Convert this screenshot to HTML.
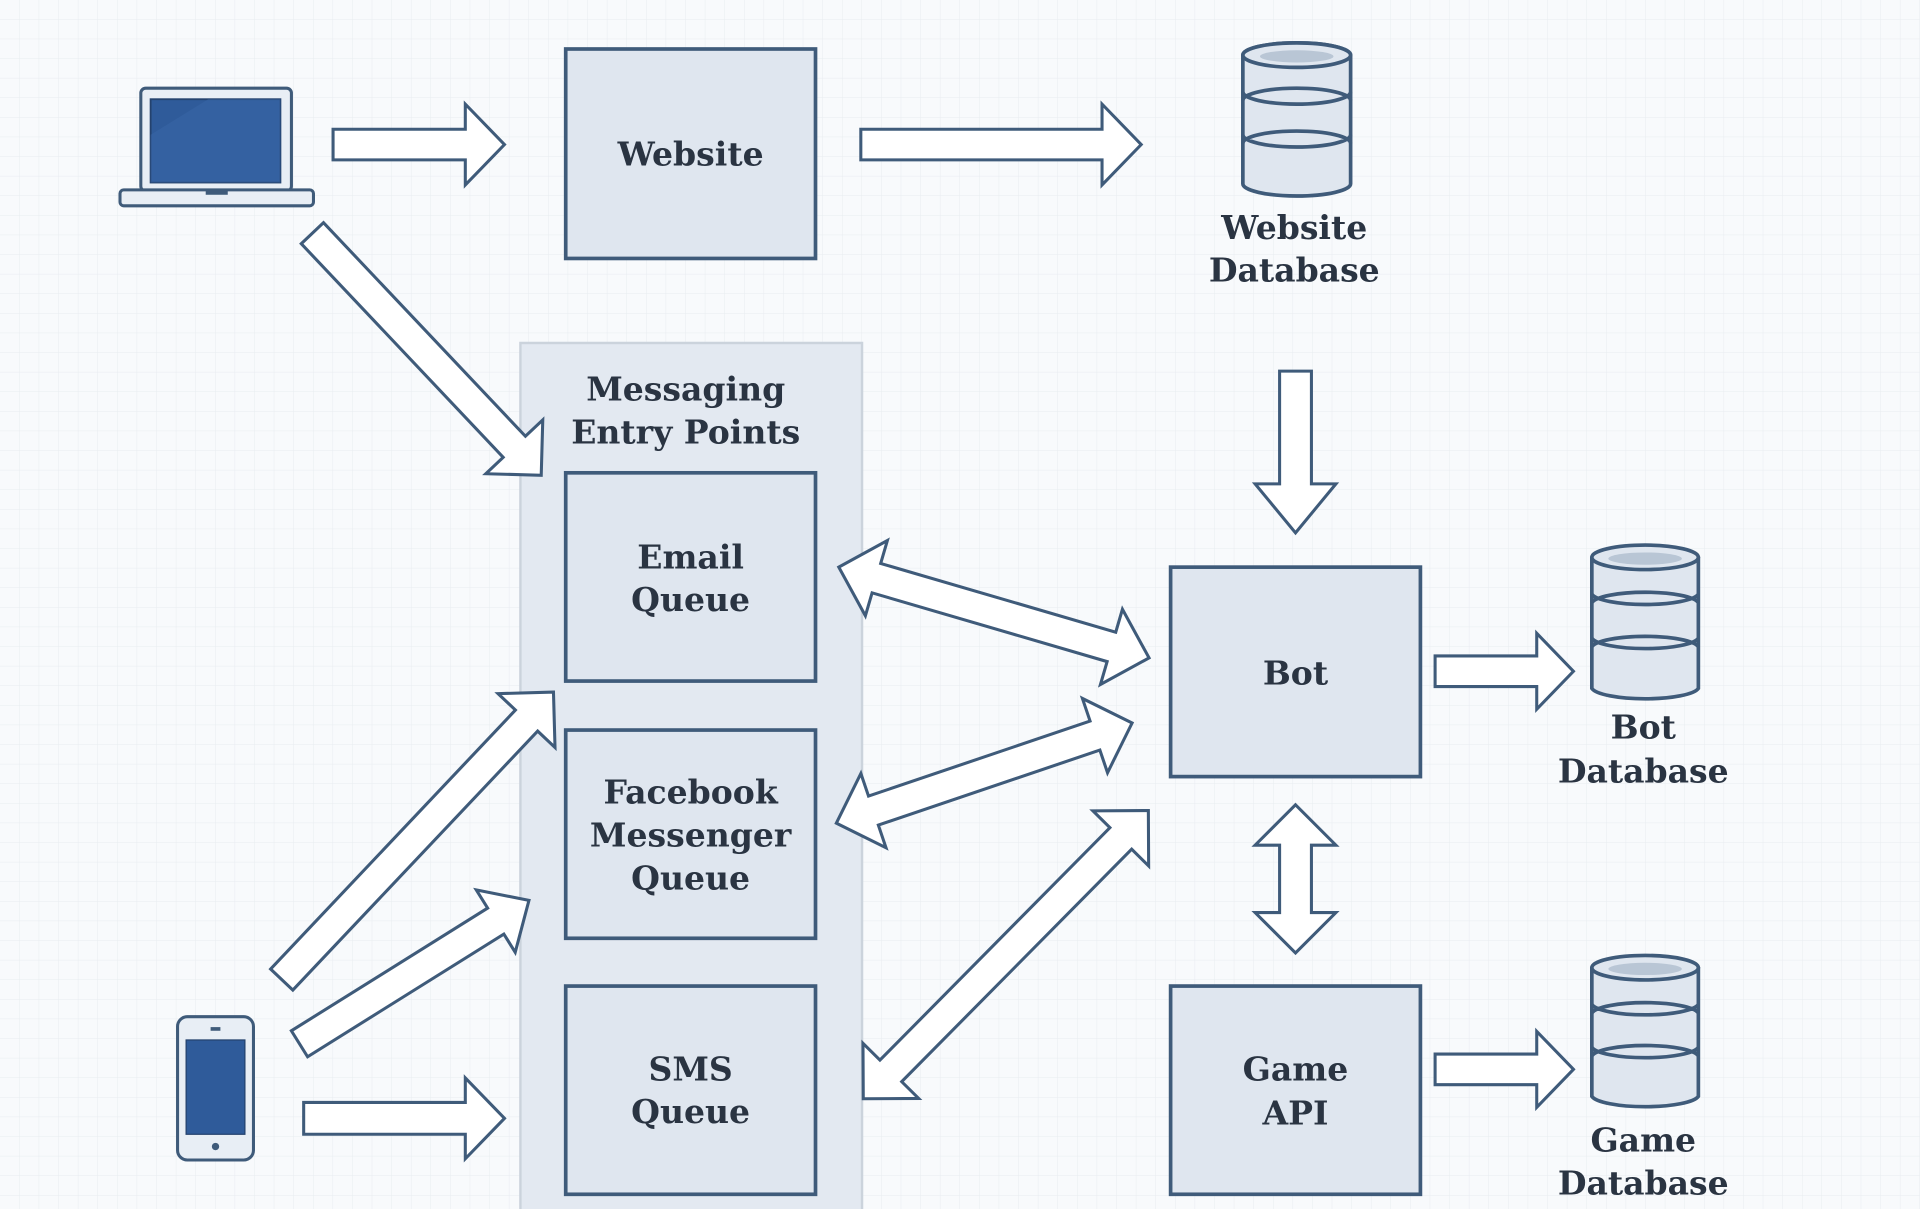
<!DOCTYPE html>
<html><head><meta charset="utf-8"><style>
html,body{margin:0;padding:0;background:#f8fafc;}
svg{display:block}
text{font-family:"DejaVu Serif","Liberation Serif",serif;font-size:27px;fill:#2a3442;text-anchor:middle;font-weight:bold;}
</style></head><body>
<svg width="1920" height="1209" viewBox="0 0 1568 987" preserveAspectRatio="none" xmlns="http://www.w3.org/2000/svg">
<defs>
<pattern id="g" width="16" height="16" patternUnits="userSpaceOnUse">
<path d="M16 0V16M0 16H16" fill="none" stroke="#e8ecf0" stroke-width="0.8"/>
</pattern>
</defs>
<rect width="1568" height="987" fill="#f8fafc"/>
<rect width="1568" height="987" fill="url(#g)"/>

<!-- messaging container -->
<rect x="425" y="280" width="279" height="720" fill="#e3e9f1" stroke="#cbd3dc" stroke-width="2"/>

<g fill="#ffffff" stroke="#3f5b7a" stroke-width="2.5" stroke-linejoin="miter">
<g transform="translate(412,118)"><polygon points="0,0 -32,-33 -32,-12.5 -140,-12.5 -140,12.5 -32,12.5 -32,33"/></g>
<g transform="translate(932,118)"><polygon points="0,0 -32,-33 -32,-12.5 -229,-12.5 -229,12.5 -32,12.5 -32,33"/></g>
<g transform="translate(442,388) rotate(46.6)"><polygon points="0,0 -32,-32 -32,-12.5 -272,-12.5 -272,12.5 -32,12.5 -32,32"/></g>
<g transform="translate(1058,435) rotate(90)"><polygon points="0,0 -40,-33 -40,-13 -132,-13 -132,13 -40,13 -40,33"/></g>
<g transform="translate(452,565) rotate(-46.6)"><polygon points="0,0 -32,-32 -32,-12.5 -323,-12.5 -323,12.5 -32,12.5 -32,32"/></g>
<g transform="translate(432,735) rotate(-32)"><polygon points="0,0 -32,-30 -32,-12.5 -221,-12.5 -221,12.5 -32,12.5 -32,30"/></g>
<g transform="translate(412,913)"><polygon points="0,0 -32,-33 -32,-13 -164,-13 -164,13 -32,13 -32,33"/></g>
<g transform="translate(1285,548)"><polygon points="0,0 -30,-31 -30,-12.5 -113,-12.5 -113,12.5 -30,12.5 -30,31"/></g>
<g transform="translate(1285,873)"><polygon points="0,0 -30,-31 -30,-12.5 -113,-12.5 -113,12.5 -30,12.5 -30,31"/></g>
<g transform="translate(685,463) rotate(16.3)"><polygon points="0,0 32,-32 32,-12.5 232,-12.5 232,-32 264,0 232,32 232,12.5 32,12.5 32,32"/></g>
<g transform="translate(683,672) rotate(-18.7)"><polygon points="0,0 32,-32 32,-12.5 223,-12.5 223,-32 255,0 223,32 223,12.5 32,12.5 32,32"/></g>
<g transform="translate(705,897) rotate(-45.3)"><polygon points="0,0 32,-32 32,-12.5 299,-12.5 299,-32 331,0 299,32 299,12.5 32,12.5 32,32"/></g>
<g transform="translate(1058,657) rotate(90)"><polygon points="0,0 33,-33 33,-13 88,-13 88,-33 121,0 88,33 88,13 33,13 33,33"/></g>
</g>

<!-- boxes -->
<g fill="#dfe6ef" stroke="#3f5b7a" stroke-width="3">
<rect x="462" y="40" width="204" height="171"/>
<rect x="462" y="386" width="204" height="170"/>
<rect x="462" y="596" width="204" height="170"/>
<rect x="462" y="805" width="204" height="170"/>
<rect x="956" y="463" width="204" height="171"/>
<rect x="956" y="805" width="204" height="170"/>
</g>

<!-- databases -->
<g fill="#dfe6ef" stroke="#3f5b7a" stroke-width="3">
<g transform="translate(1015,35)">
<path d="M0 10 A44 10 0 0 1 88 10 V115 A44 10 0 0 1 0 115 Z"/>
<ellipse cx="44" cy="10" rx="44" ry="10"/>
<ellipse cx="44" cy="11" rx="30" ry="5" fill="#b9c6d5" stroke="none"/>
<path d="M0 40 A44 10 0 0 0 88 40 M0 47 A44 10 0 0 1 88 47 M0 75 A44 10 0 0 0 88 75 M0 82 A44 10 0 0 1 88 82" fill="none"/>
</g>
<g transform="translate(1300,445)">
<path d="M0 10 A44 10 0 0 1 87 10 V117 A44 10 0 0 1 0 117 Z"/>
<ellipse cx="43.5" cy="10" rx="43.5" ry="10"/>
<ellipse cx="43.5" cy="11" rx="30" ry="5" fill="#b9c6d5" stroke="none"/>
<path d="M0 40 A44 10 0 0 0 87 40 M0 47 A44 10 0 0 1 87 47 M0 76 A44 10 0 0 0 87 76 M0 83 A44 10 0 0 1 87 83" fill="none"/>
</g>
<g transform="translate(1300,780)">
<path d="M0 10 A44 10 0 0 1 87 10 V115 A44 10 0 0 1 0 115 Z"/>
<ellipse cx="43.5" cy="10" rx="43.5" ry="10"/>
<ellipse cx="43.5" cy="11" rx="30" ry="5" fill="#b9c6d5" stroke="none"/>
<path d="M0 40 A44 10 0 0 0 87 40 M0 47 A44 10 0 0 1 87 47 M0 75 A44 10 0 0 0 87 75 M0 82 A44 10 0 0 1 87 82" fill="none"/>
</g>
</g>

<!-- laptop -->
<g stroke="#3f5b7a" stroke-width="2.5">
<rect x="115" y="72" width="123" height="84" rx="4" fill="#e8eef5"/>
<rect x="123" y="81" width="106" height="68" fill="#2f5b9a" stroke="#24426e" stroke-width="1.5"/>
<polygon points="123,149 123,110 170,81 229,81 229,149" fill="#3a67a8" stroke="none" opacity="0.5"/>
<rect x="98" y="155" width="158" height="13" rx="3" fill="#e8eef5"/>
<rect x="168" y="155" width="18" height="4" fill="#3f5b7a" stroke="none"/>
</g>

<!-- phone -->
<g stroke="#3f5b7a" stroke-width="2.5">
<rect x="145" y="830" width="62" height="117" rx="8" fill="#e8eef5"/>
<rect x="152" y="849" width="48" height="77" fill="#2f5b9a" stroke="#24426e" stroke-width="1"/>
<line x1="172" y1="840" x2="180" y2="840" stroke-width="3"/>
<circle cx="176" cy="936" r="3" fill="#3f5b7a" stroke="none"/>
</g>

<!-- labels -->
<text x="564" y="135">Website</text>
<text x="560" y="327">Messaging</text>
<text x="560" y="362">Entry Points</text>
<text x="564" y="464">Email</text>
<text x="564" y="499">Queue</text>
<text x="564" y="656">Facebook</text>
<text x="564" y="691">Messenger</text>
<text x="564" y="726">Queue</text>
<text x="564" y="882">SMS</text>
<text x="564" y="917">Queue</text>
<text x="1058" y="559">Bot</text>
<text x="1058" y="882">Game</text>
<text x="1058" y="918">API</text>
<text x="1057" y="195">Website</text>
<text x="1057" y="230">Database</text>
<text x="1342" y="603">Bot</text>
<text x="1342" y="639">Database</text>
<text x="1342" y="940">Game</text>
<text x="1342" y="975">Database</text>
</svg>
</body></html>
